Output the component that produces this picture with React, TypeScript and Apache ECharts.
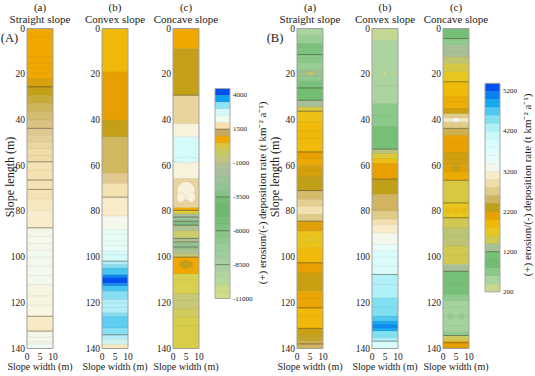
import { useEffect, useRef } from 'react';
import * as echarts from 'echarts';

// ---------------- data ----------------
const panelNames = ['(A)', '(B)'];
const slopeLetters = ['(a)', '(b)', '(c)'];
const slopeNames = ['Straight slope', 'Convex slope', 'Concave slope'];
const yAxisTitle = 'Slope length (m)';
const xAxisTitle = 'Slope width (m)';
const legendTitle = '(+) erosion/(-) deposition rate (t km\u207B\u00B2 a\u207B\u00B9)';

const slopeLengthMax = 140;
const slopeWidthMax = 10;

// colour-bar scales
const legendTicksA = [4000, 1500, -1000, -3500, -6000, -8500, -11000];
const legendTicksB = [5200, 4200, 3200, 2200, 1200, 200];
const legendRangeA = [-11000, 4500];
const legendRangeB = [200, 5400];
const legendStepA = 500;
const legendStepB = 200;
const legendContoursA = [1500, -3500, -6000, -8500];
const legendContoursB = [1200];

// bands along the slope: [from (m), to (m), rate]
const aStraightBands = [
  [0, 22, 700], [22, 25.5, 950], [25.5, 29, 1100], [29, 32.7, 1200], [32.7, 36.3, 1280],
  [36.3, 40, 1350], [40, 43.7, 1420], [43.7, 46.6, 1500], [46.6, 49.5, 1550], [49.5, 52.5, 1600],
  [52.5, 58.3, 1650], [58.3, 66.3, 1700], [66.3, 74.5, 1700], [74.5, 79.5, 1760], [79.5, 87.2, 1810],
  [87.2, 97, 2050], [97, 112, 2150], [112, 125.9, 1950], [125.9, 132.4, 1780], [132.4, 138, 2050],
  [138, 140, 2250],
];
const aConvexBands = [
  [0, 19, 550], [19, 40, 800], [40, 47.4, 1100], [47.4, 63.4, 1300], [63.4, 67.8, 1500],
  [67.8, 73.8, 1700], [73.8, 82, 1800], [82, 88, 2100], [88, 97.4, 2400], [97.4, 101.8, 2700],
  [101.8, 103.3, 2900], [103.3, 104.8, 3100], [104.8, 107.7, 3400], [107.7, 109, 3900],
  [109, 111.4, 4300], [111.4, 112.5, 3900], [112.5, 115, 3400], [115, 118.6, 3100],
  [118.6, 124.4, 2900], [124.4, 125.9, 3100], [125.9, 131, 3300], [131, 134, 3100],
  [134, 136, 2900], [136, 138.3, 2700], [138.3, 140, 1750],
];
const aConcaveBands = [
  [0, 8.7, 700], [8.7, 29.2, 1100], [29.2, 41.6, 1580], [41.6, 47.4, 1900], [47.4, 58.3, 2700],
  [58.3, 65.6, 1900], [65.6, 78.4, 1580], [78.4, 79.6, 700], [79.6, 81, 300], [81, 82.5, -1400],
  [82.5, 84.5, -2000], [84.5, 86.5, -2800], [86.5, 88.5, -1100], [88.5, 91.4, -300],
  [91.4, 93.6, -1100], [93.6, 96.5, -2200], [96.5, 98.6, -1200], [98.6, 100, -500],
  [100, 107.3, 700], [107.3, 116, 100], [116, 122.6, -500], [122.6, 126.2, -200], [126.2, 140, 200],
];
const bStraightBands = [
  [0, 2.9, 500], [2.9, 6.6, 600], [6.6, 11.4, 800], [11.4, 15.3, 700], [15.3, 18.2, 600],
  [18.2, 20.8, 1250], [20.8, 22.6, 650], [22.6, 26, 800], [26, 31.4, 1000], [31.4, 34.3, 1300],
  [34.3, 36.2, 1550], [36.2, 40.8, 1800], [40.8, 54, 1880], [54, 56.9, 2100], [56.9, 59.8, 2020],
  [59.8, 64.9, 2200], [64.9, 70.9, 2300], [70.9, 74.8, 2550], [74.8, 77.7, 2750], [77.7, 81.4, 2950],
  [81.4, 84.3, 2700], [84.3, 88.7, 2150], [88.7, 96, 1750], [96, 102.5, 1880], [102.5, 106.9, 2100],
  [106.9, 114.9, 2250], [114.9, 122.2, 2050], [122.2, 131.2, 1900], [131.2, 134, 2250],
  [134, 136.5, 2350], [136.5, 138.2, 2450], [138.2, 140, 2500],
];
const bConvexBands = [
  [0, 5.1, 320], [5.1, 32.8, 480], [32.8, 43, 680], [43, 52.8, 1050], [52.8, 54.7, 1380],
  [54.7, 56.9, 1600], [56.9, 59, 1800], [59, 65.9, 2100], [65.9, 72.6, 2300], [72.6, 79.9, 2500],
  [79.9, 83.5, 2700], [83.5, 85.7, 2950], [85.7, 89.4, 3100], [89.4, 94.5, 3300], [94.5, 97.4, 3500],
  [97.4, 107.6, 3850], [107.6, 117.8, 4300], [117.8, 125.8, 4500], [125.8, 128, 4700],
  [128, 129.5, 4900], [129.5, 131, 5050], [131, 132.4, 4900], [132.4, 135.3, 4500],
  [135.3, 136.8, 4300], [136.8, 140, 3900],
];
const bConcaveBands = [
  [0, 4.4, 1050], [4.4, 7.3, 650], [7.3, 12.4, 1300], [12.4, 15.3, 1420], [15.3, 19, 1550],
  [19, 23.3, 1700], [23.3, 29.9, 1880], [29.9, 35, 1980], [35, 37.2, 2250], [37.2, 39, 2700],
  [39, 41, 3050], [41, 43.7, 2700], [43.7, 46.7, 2450], [46.7, 54, 2080], [54, 59.8, 2220],
  [59.8, 62.7, 2150], [62.7, 66.4, 2000], [66.4, 76.3, 1570], [76.3, 82.8, 1720], [82.8, 87.2, 1500],
  [87.2, 95.2, 1400], [95.2, 103.2, 1500], [103.2, 106.2, 1300], [106.2, 116.4, 1050],
  [116.4, 119.3, 650], [119.3, 132.4, 520], [132.4, 134.6, 650], [134.6, 136.8, 1500],
  [136.8, 139.7, 2100], [139.7, 140, 2300],
];

// major contour lines (m along slope)
const aStraightMajor = [25.5, 43.7, 58.3, 66.3, 70.4, 87.2, 125.9, 132.4];
const aConvexMajor = [73.8, 101.8, 134];
const aConcaveMajor = [29.2, 79.6, 82.5, 84.3, 86, 91.9, 93.4, 95.6, 100];
const bStraightMajor = [11.4, 26, 31.4, 36.2, 54, 70.9, 84.3, 102.5, 122.2, 131.2, 138];
const bConvexMajor = [52.8, 65.9, 107.6, 136.8];
const bConcaveMajor = [4.4, 23.3, 43.7, 66.4, 76.3, 82.8, 106.2, 134.3, 137.5];

// minor contour lines
const aStraightMinor = [3.6, 12.4, 15.3, 17.2, 19.4, 55.5, 62, 91, 94, 100, 104, 108, 117, 121, 135, 137];
const aConvexMinor = [90, 93, 95, 99, 120, 122, 136.5, 137.5];
const aConcaveMinor = [110, 119, 130];
const bStraightMinor = [8, 13, 24, 45, 48, 62, 67, 110, 118, 126];
const bConvexMinor = [25, 38, 100, 104, 112, 122];
const bConcaveMinor = [10, 32, 50, 57, 91, 99, 112, 122, 126, 130];

// closed contour patches: [x (m), y (m), half-width (m), half-height (m), rate]
const aStraightBlobs: number[][] = [];
const aConvexBlobs: number[][] = [];
const aConcaveBlobs = [
  [5, 57.5, 5, 1.3, 2700], [5, 71, 3.4, 4, 1900], [3, 73.8, 1.6, 2.3, 1900], [7, 73.8, 1.6, 2.3, 1900],
  [5, 103.3, 2.6, 1.7, 1100],
];
const bStraightBlobs = [[5, 19.6, 2, 0.9, 1400], [5, 92.3, 2, 1.4, 1650]];
const bConvexBlobs = [[5, 19.7, 1, 1.3, 320], [0, 19.7, 0.8, 1.3, 320], [10, 19.7, 0.8, 1.3, 320]];
const bConcaveBlobs = [
  [5, 40, 1.8, 1, 3300], [5, 61, 1.2, 1.1, 2300], [2, 79.5, 1, 1.2, 1850], [5, 79.5, 1, 1.2, 1850],
  [8, 79.5, 1, 1.2, 1850], [3, 126, 1.2, 1.2, 620], [7, 126, 1.2, 1.2, 620],
];

// ---------------- styles ----------------
const FONT = "'Liberation Serif', 'Times New Roman', Times, serif";
const TEXT = '#1a1a1a';

// colour bar colours, top to bottom
const legendColorsA = [
  '#0050F0', '#10A0F0', '#90E4F4', '#D8F8F8', '#ECFCF0', '#F8E0B0', '#C8A860', '#F0A800',
  '#D8C440', '#C8C860', '#C0C480', '#B0C098', '#A8C0A0', '#98C498', '#90C490', '#88C088',
  '#78BC78', '#70B870', '#70B870', '#78BC78', '#80C080', '#88C488', '#90C890', '#98CC98',
  '#A0CCA0', '#A8D0A0', '#A8D0A0', '#B0D4A0', '#B8D898', '#C8DC90', '#D0DC88',
];
const legendColorsB = [
  '#0050F0', '#0880F0', '#18A8F0', '#50C8F0', '#80E0F0', '#B0F0F8', '#C8F8F8', '#D8FCFC',
  '#E0FCFC', '#E8FCF8', '#F4F8EC', '#F8ECC8', '#F0DCA8', '#E0CC88', '#D0B460', '#C0A018',
  '#E8A000', '#F0B808', '#E8C820', '#D0C850', '#A8C098', '#78C078', '#70BC70', '#88C888',
  '#A8D4A0', '#C8D890',
];
// finer colour ramp used for the panel A contour fills
const rampA: [number, string][] = [
  [4300, '#0050F0'], [4000, '#0878F0'], [3700, '#18A0F0'], [3400, '#48C4F0'], [3100, '#88DEF2'],
  [2900, '#B4EEF8'], [2700, '#D4FAFA'], [2400, '#E6FCF6'], [2100, '#F4F8EC'], [1900, '#F8F2DC'],
  [1800, '#F8ECC8'], [1700, '#F4E2B2'], [1600, '#EAD6A0'], [1500, '#E0C890'], [1400, '#D8C080'],
  [1300, '#D0B860'], [1200, '#C8AA3A'], [1100, '#C4A018'], [950, '#D8A00C'], [800, '#E8A000'],
  [700, '#F0A800'], [550, '#F0B808'], [400, '#ECC818'], [250, '#D8CC48'], [100, '#D8D050'],
  [-200, '#D0CC60'], [-500, '#C8C878'], [-800, '#C0C480'], [-1100, '#B0C090'], [-1400, '#A8C098'],
  [-2000, '#98C498'], [-2600, '#88C088'], [-3200, '#78B878'], [-4500, '#70B870'], [-5500, '#80C080'],
  [-6500, '#90C890'], [-7500, '#A0CCA0'], [-8500, '#A8D0A0'], [-9500, '#B8D898'], [-11000, '#D0DC88'],
];

const stripLefts = [[27, 102, 173], [297, 372, 443]];
const STRIP_W = 26;
const STRIP_TOP = 28.5;
const STRIP_H = 320;
const legendBoxes = [
  { left: 215, top: 88.5, width: 15, height: 210 },
  { left: 485, top: 83.3, width: 15, height: 208.5 },
];
const MAJOR_STYLE = { stroke: 'rgba(50,45,25,0.62)', lineWidth: 0.7 };
const MINOR_STYLE = { stroke: 'rgba(110,100,70,0.2)', lineWidth: 0.5 };

// ---------------- helpers ----------------
function hexRgb(h: string) {
  const n = parseInt(h.slice(1), 16);
  return [(n >> 16) & 255, (n >> 8) & 255, n & 255];
}
function makeRamp(stops: [number, string][]) {
  const s = stops.map(([v, c]) => [v, hexRgb(c)] as [number, number[]]).sort((a, b) => a[0] - b[0]);
  return (v: number) => {
    let c: number[];
    if (v <= s[0][0]) c = s[0][1];
    else if (v >= s[s.length - 1][0]) c = s[s.length - 1][1];
    else {
      let i = 0;
      while (s[i + 1][0] < v) i++;
      const t = (v - s[i][0]) / (s[i + 1][0] - s[i][0]);
      c = s[i][1].map((x, k) => Math.round(x + (s[i + 1][1][k] - x) * t));
    }
    return `rgb(${c[0]},${c[1]},${c[2]})`;
  };
}
const colorA = makeRamp(rampA);
const rampB: [number, string][] = legendColorsB.map((c, i) => [legendRangeB[1] - (i + 0.5) * legendStepB, c]);
const colorB = makeRamp(rampB);

const strips = [
  { bands: aStraightBands, major: aStraightMajor, minor: aStraightMinor, blobs: aStraightBlobs, color: colorA },
  { bands: aConvexBands, major: aConvexMajor, minor: aConvexMinor, blobs: aConvexBlobs, color: colorA },
  { bands: aConcaveBands, major: aConcaveMajor, minor: aConcaveMinor, blobs: aConcaveBlobs, color: colorA },
  { bands: bStraightBands, major: bStraightMajor, minor: bStraightMinor, blobs: bStraightBlobs, color: colorB },
  { bands: bConvexBands, major: bConvexMajor, minor: bConvexMinor, blobs: bConvexBlobs, color: colorB },
  { bands: bConcaveBands, major: bConcaveMajor, minor: bConcaveMinor, blobs: bConcaveBlobs, color: colorB },
];

function txt(text: string, x: number, y: number, size: number, extra: any = {}) {
  return {
    type: 'text', x, y, silent: true, ...extra,
    style: {
      text, fontSize: size, fontFamily: FONT, fill: TEXT,
      align: 'center', verticalAlign: 'middle', textAlign: 'center', textVerticalAlign: 'middle',
    },
  };
}

function buildOption() {
  const grid: any[] = [];
  const xAxis: any[] = [];
  const yAxis: any[] = [];
  const series: any[] = [];
  const graphic: any[] = [];

  strips.forEach((st, gi) => {
    const p = Math.floor(gi / 3);
    const k = gi % 3;
    const left = stripLefts[p][k];
    grid.push({ left, top: STRIP_TOP, width: STRIP_W, height: STRIP_H });
    xAxis.push({
      gridIndex: gi, type: 'value', min: 0, max: slopeWidthMax, interval: 5,
      axisLine: { show: false }, axisTick: { show: false }, splitLine: { show: false },
      axisLabel: { fontSize: 9.5, fontFamily: FONT, color: TEXT, margin: 3 },
    });
    yAxis.push({
      gridIndex: gi, type: 'value', inverse: true, min: 0, max: slopeLengthMax, interval: 20,
      axisLine: { show: false }, axisTick: { show: false }, splitLine: { show: false },
      axisLabel: { fontSize: 9.5, fontFamily: FONT, color: TEXT, margin: 2 },
    });
    const col = st.color;
    series.push({
      type: 'custom', xAxisIndex: gi, yAxisIndex: gi, z: 2, clip: true, silent: true,
      data: st.bands,
      renderItem: (_: any, api: any) => {
        const a = api.coord([0, api.value(0)]);
        const b = api.coord([slopeWidthMax, api.value(1)]);
        return {
          type: 'group', children: [
            { type: 'rect', shape: { x: a[0], y: a[1], width: b[0] - a[0], height: b[1] - a[1] + 0.4 }, style: { fill: col(api.value(2)) } },
            { type: 'line', shape: { x1: a[0], y1: a[1], x2: b[0], y2: a[1] }, style: { ...MINOR_STYLE } },
          ],
        };
      },
    });
    series.push({
      type: 'custom', xAxisIndex: gi, yAxisIndex: gi, z: 3, clip: true, silent: true,
      data: st.blobs,
      renderItem: (_: any, api: any) => {
        const c = api.coord([api.value(0), api.value(1)]);
        const o = api.coord([api.value(0) + api.value(2), api.value(1) + api.value(3)]);
        return {
          type: 'ellipse',
          shape: { cx: c[0], cy: c[1], rx: Math.abs(o[0] - c[0]), ry: Math.abs(o[1] - c[1]) },
          style: { fill: col(api.value(4)), ...MINOR_STYLE },
        };
      },
    });
    series.push({
      type: 'custom', xAxisIndex: gi, yAxisIndex: gi, z: 4, clip: true, silent: true,
      data: st.minor.map((s) => [s]),
      renderItem: (_: any, api: any) => {
        const a = api.coord([0, api.value(0)]);
        const b = api.coord([slopeWidthMax, api.value(0)]);
        return { type: 'line', shape: { x1: a[0], y1: a[1], x2: b[0], y2: b[1] }, style: { ...MINOR_STYLE } };
      },
    });
    series.push({
      type: 'custom', xAxisIndex: gi, yAxisIndex: gi, z: 5, clip: true, silent: true,
      data: st.major.map((s) => [s]),
      renderItem: (_: any, api: any) => {
        const a = api.coord([0, api.value(0)]);
        const b = api.coord([slopeWidthMax, api.value(0)]);
        return { type: 'line', shape: { x1: a[0], y1: a[1], x2: b[0], y2: b[1] }, style: { ...MAJOR_STYLE } };
      },
    });
    series.push({
      type: 'custom', xAxisIndex: gi, yAxisIndex: gi, z: 6, silent: true,
      data: [[0, 0, slopeWidthMax, slopeLengthMax]],
      renderItem: (_: any, api: any) => {
        const a = api.coord([api.value(0), api.value(1)]);
        const b = api.coord([api.value(2), api.value(3)]);
        return { type: 'rect', shape: { x: a[0], y: a[1], width: b[0] - a[0], height: b[1] - a[1] }, style: { fill: 'none', stroke: '#a0a0a0', lineWidth: 1 } };
      },
    });

    const cx = left + STRIP_W / 2;
    graphic.push(txt(slopeLetters[k], cx, 7, 11));
    graphic.push(txt(slopeNames[k], cx, 19, 11));
    graphic.push(txt(xAxisTitle, cx, 366.5, 10));
  });

  // colour bars
  const legends = [
    { range: legendRangeA, step: legendStepA, colors: legendColorsA, ticks: legendTicksA, lines: legendContoursA },
    { range: legendRangeB, step: legendStepB, colors: legendColorsB, ticks: legendTicksB, lines: legendContoursB },
  ];
  legends.forEach((lg, li) => {
    const gi = 6 + li;
    const box = legendBoxes[li];
    grid.push({ ...box });
    xAxis.push({ gridIndex: gi, type: 'value', min: 0, max: 1, show: false });
    yAxis.push({
      gridIndex: gi, type: 'value', position: 'right', min: lg.range[0], max: lg.range[1],
      axisLine: { show: false }, splitLine: { show: false },
      axisTick: { show: false, customValues: lg.ticks },
      axisLabel: {
        customValues: lg.ticks, fontSize: 7, fontFamily: FONT, color: TEXT, margin: 3,
        formatter: (v: number) => String(v),
      },
    });
    const n = Math.round((lg.range[1] - lg.range[0]) / lg.step);
    const cells: number[][] = [];
    for (let i = 0; i < n; i++) cells.push([lg.range[1] - (i + 1) * lg.step, lg.range[1] - i * lg.step, i]);
    const colors = lg.colors;
    series.push({
      type: 'custom', xAxisIndex: gi, yAxisIndex: gi, z: 2, silent: true,
      data: cells,
      renderItem: (_: any, api: any) => {
        const a = api.coord([0, api.value(1)]);
        const b = api.coord([1, api.value(0)]);
        return {
          type: 'group', children: [
            { type: 'rect', shape: { x: a[0], y: a[1], width: b[0] - a[0], height: b[1] - a[1] + 0.4 }, style: { fill: colors[api.value(2)] } },
            { type: 'line', shape: { x1: a[0], y1: a[1], x2: b[0], y2: a[1] }, style: { stroke: 'rgba(90,90,90,0.12)', lineWidth: 0.5 } },
          ],
        };
      },
    });
    series.push({
      type: 'custom', xAxisIndex: gi, yAxisIndex: gi, z: 4, silent: true,
      data: lg.lines.map((v) => [v]),
      renderItem: (_: any, api: any) => {
        const a = api.coord([0, api.value(0)]);
        const b = api.coord([1, api.value(0)]);
        return { type: 'line', shape: { x1: a[0], y1: a[1], x2: b[0], y2: b[1] }, style: { ...MAJOR_STYLE } };
      },
    });
    series.push({
      type: 'custom', xAxisIndex: gi, yAxisIndex: gi, z: 6, silent: true,
      data: [[0, lg.range[0], 1, lg.range[1]]],
      renderItem: (_: any, api: any) => {
        const a = api.coord([api.value(0), api.value(3)]);
        const b = api.coord([api.value(2), api.value(1)]);
        return { type: 'rect', shape: { x: a[0], y: a[1], width: b[0] - a[0], height: b[1] - a[1] }, style: { fill: 'none', stroke: '#a8a8a8', lineWidth: 1 } };
      },
    });
  });

  graphic.push(txt(panelNames[0], 9.5, 37.5, 12.5));
  graphic.push(txt(panelNames[1], 275, 37.5, 12.5));
  graphic.push(txt(yAxisTitle, 9.5, 177, 12, { rotation: Math.PI / 2 }));
  graphic.push(txt(yAxisTitle, 275, 177, 12, { rotation: Math.PI / 2 }));
  graphic.push(txt(legendTitle, 262, 193, 11, { rotation: Math.PI / 2 }));
  graphic.push(txt(legendTitle, 527, 185, 11, { rotation: Math.PI / 2 }));

  return { animation: false, backgroundColor: '#ffffff', grid, xAxis, yAxis, series, graphic };
}

export default function App() {
  const ref = useRef<HTMLDivElement>(null);
  useEffect(() => {
    if (!ref.current) return;
    const chart = echarts.init(ref.current, undefined, { renderer: 'svg' });
    chart.setOption(buildOption() as any);
    return () => chart.dispose();
  }, []);
  return <div ref={ref} style={{ position: 'fixed', left: 0, top: 0, width: 535, height: 376 }} />;
}
